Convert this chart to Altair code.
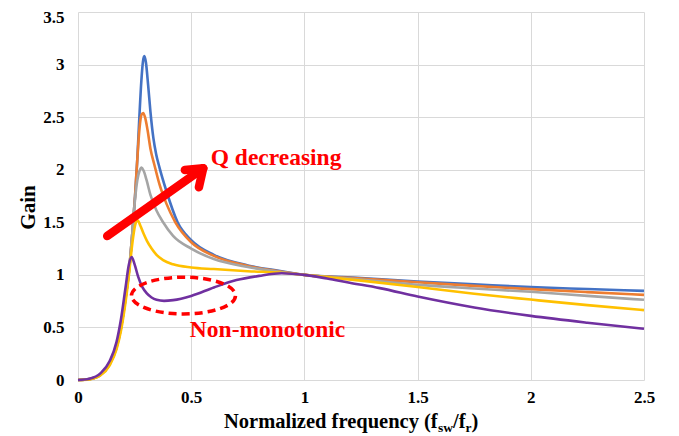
import altair as alt
import pandas as pd

# ---------------- data ----------------
x_ticks = [0, 0.5, 1, 1.5, 2, 2.5]
y_ticks = [0, 0.5, 1, 1.5, 2, 2.5, 3, 3.5]

blue_x = [0, 0.05, 0.1, 0.14, 0.17, 0.19, 0.21, 0.225, 0.24, 0.252, 0.262, 0.271, 0.28, 0.287, 0.293,
          0.3, 0.31, 0.32, 0.333, 0.345, 0.36, 0.39, 0.44, 0.5, 0.6, 0.75, 0.9, 1.0, 1.25, 1.5, 1.75, 2.0, 2.25, 2.5]
blue_y = [0, 0.008, 0.05, 0.15, 0.31, 0.5, 0.78, 1.03, 1.4, 1.75, 2.1, 2.5, 2.85, 3.03, 3.08,
          3.02, 2.8, 2.55, 2.3, 2.15, 2.02, 1.8, 1.5, 1.33, 1.19, 1.09, 1.035, 1.0, 0.97, 0.937, 0.91, 0.883, 0.865, 0.848]

orange_x = [0, 0.05, 0.1, 0.14, 0.17, 0.19, 0.21, 0.225, 0.24, 0.252, 0.262, 0.272, 0.28, 0.288,
            0.296, 0.307, 0.32, 0.337, 0.36, 0.39, 0.43, 0.5, 0.6, 0.75, 0.9, 1.0, 1.25, 1.5, 1.75, 2.0, 2.25, 2.5]
orange_y = [0, 0.008, 0.05, 0.15, 0.31, 0.5, 0.78, 1.03, 1.4, 1.75, 2.1, 2.4, 2.52, 2.54,
            2.5, 2.38, 2.2, 2.05, 1.86, 1.68, 1.5, 1.31, 1.18, 1.085, 1.03, 1.0, 0.965, 0.93, 0.895, 0.864, 0.836, 0.81]

gray_x = [0, 0.05, 0.1, 0.14, 0.17, 0.19, 0.21, 0.225, 0.24, 0.252, 0.262, 0.272, 0.281,
          0.29, 0.303, 0.32, 0.345, 0.376, 0.42, 0.5, 0.6, 0.75, 0.9, 1.0, 1.25, 1.5, 1.75, 2.0, 2.25, 2.5]
gray_y = [0, 0.008, 0.05, 0.15, 0.31, 0.5, 0.78, 1.03, 1.4, 1.72, 1.9, 1.99, 2.02,
          1.99, 1.9, 1.76, 1.62, 1.5, 1.37, 1.25, 1.15, 1.075, 1.025, 1.0, 0.955, 0.905, 0.87, 0.839, 0.8, 0.763]

yellow_x = [0, 0.05, 0.1, 0.14, 0.17, 0.19, 0.21, 0.225, 0.24, 0.252, 0.263, 0.275, 0.29, 0.305,
            0.325, 0.347, 0.376, 0.42, 0.5, 0.6, 0.75, 0.9, 1.0, 1.25, 1.5, 1.75, 2.0, 2.25, 2.5]
yellow_y = [0, 0.006, 0.045, 0.14, 0.29, 0.47, 0.74, 1.0, 1.3, 1.47, 1.52, 1.47, 1.39, 1.32,
            1.25, 1.19, 1.14, 1.1, 1.07, 1.055, 1.035, 1.02, 1.0, 0.945, 0.885, 0.82, 0.765, 0.712, 0.665]

purple_x = [0, 0.05, 0.1, 0.14, 0.17, 0.19, 0.21, 0.225, 0.237, 0.25, 0.266, 0.285, 0.303, 0.325,
            0.347, 0.38, 0.42, 0.5, 0.6, 0.7, 0.8, 0.9, 1.0, 1.1, 1.2, 1.333, 1.5, 1.75, 2.0, 2.25, 2.5]
purple_y = [0, 0.012, 0.065, 0.18, 0.36, 0.58, 0.88, 1.1, 1.17, 1.1, 0.98, 0.88, 0.826, 0.785,
            0.763, 0.753, 0.76, 0.8, 0.88, 0.95, 0.99, 1.015, 1.0, 0.965, 0.925, 0.874, 0.794, 0.69, 0.61, 0.545, 0.487]

series_names = ["Q1", "Q2", "Q3", "Q4", "Q5"]
series_colors = ["#4472C4", "#ED7D31", "#A5A5A5", "#FFC000", "#7030A0"]
series_xs = [blue_x, orange_x, gray_x, yellow_x, purple_x]
series_ys = [blue_y, orange_y, gray_y, yellow_y, purple_y]

# annotation arrow (data units): shaft then two head arms
arrow_x1 = [0.129, 0.553, 0.553]
arrow_y1 = [1.37, 2.013, 2.013]
arrow_x2 = [0.553, 0.472, 0.534]
arrow_y2 = [2.013, 1.997, 1.833]

label_text = ["Q decreasing", "Non-monotonic"]
label_x = [0.586, 0.494]
label_y = [2.045, 0.408]

ellipse_x = [0.466]
ellipse_y = [0.803]

# ---------------- chart ----------------
FONT = "Liberation Serif"
RED = "#FF0000"

x_scale = alt.Scale(domain=[0, 2.5], nice=False, zero=False)
y_scale = alt.Scale(domain=[0, 3.5], nice=False, zero=False)

x_axis = alt.Axis(values=x_ticks, format="~g", title=None, grid=True, gridColor="#D9D9D9",
                  gridWidth=1, domain=False, ticks=False, labelFont=FONT, labelFontSize=17,
                  labelFontWeight="bold", labelColor="black", labelPadding=9, labelFlush=False)
y_axis = alt.Axis(values=y_ticks, format="~g", title="Gain", grid=True, gridColor="#D9D9D9",
                  gridWidth=1, domain=False, ticks=False, labelFont=FONT, labelFontSize=17,
                  labelFontWeight="bold", labelColor="black", labelPadding=14, labelFlush=False,
                  labelOffset={"condition": {"test": "datum.value >= 3.5", "value": 5}, "value": 0},
                  titleFont=FONT, titleFontSize=21, titleFontWeight="bold", titleColor="black",
                  titleAngle=270, titleX=-44, titleY=195, titleBaseline="alphabetic",
                  titleAlign="center")


def X(field="x"):
    return alt.X(f"{field}:Q", scale=x_scale, axis=x_axis)


def Y(field="y"):
    return alt.Y(f"{field}:Q", scale=y_scale, axis=y_axis)


layers = []
for name, xs, ys, col in zip(series_names, series_xs, series_ys, series_colors):
    df = pd.DataFrame({"x": xs, "y": ys, "s": name})
    layers.append(
        alt.Chart(df).mark_line(color=col, strokeWidth=2.6, interpolate="monotone")
        .encode(x=X(), y=Y())
    )

arrow_df = pd.DataFrame({"x": arrow_x1, "y": arrow_y1, "x2": arrow_x2, "y2": arrow_y2})
arrow = alt.Chart(arrow_df).mark_rule(color=RED, strokeWidth=8.5, strokeCap="round").encode(
    x=X(), y=Y(), x2="x2:Q", y2="y2:Q")

ell_df = pd.DataFrame({"x": ellipse_x, "y": ellipse_y})
ellipse_path = ("M -1 0 C -1 -0.195 -0.552 -0.353 0 -0.353 C 0.552 -0.353 1 -0.195 1 0 "
                "C 1 0.195 0.552 0.353 0 0.353 C -0.552 0.353 -1 0.195 -1 0 Z")
ellipse = alt.Chart(ell_df).mark_point(shape=ellipse_path, size=10816, filled=False, color=RED,
                                       strokeWidth=3.5, strokeDash=[8, 5], opacity=1).encode(
    x=X(), y=Y())

lab_df = pd.DataFrame({"x": label_x, "y": label_y, "t": label_text})
labels = alt.Chart(lab_df).mark_text(align="left", baseline="alphabetic", font=FONT, fontSize=23.5,
                                     fontWeight="bold", color=RED).encode(
    x=X(), y=Y(), text="t:N")

# x-axis title with subscripts, built from text fragments
title_parts = ["Normalized frequency (f", "sw", "/f", "r", ")"]
title_px = [146, 360.1, 375.1, 387.6, 393.6]
title_py = [415.7, 420, 415.7, 420, 415.7]
title_fs = [20.5, 13.5, 20.5, 13.5, 20.5]
title_layers = []
for t, px, py, fs in zip(title_parts, title_px, title_py, title_fs):
    tdf = pd.DataFrame({"t": [t]})
    title_layers.append(
        alt.Chart(tdf).mark_text(align="left", baseline="alphabetic", font=FONT, fontSize=fs,
                                 fontWeight="bold", color="black")
        .encode(x=alt.value(px), y=alt.value(py), text="t:N")
    )

chart = alt.layer(*layers, arrow, ellipse, labels, *title_layers).properties(
    width=566, height=368,
    padding={"left": 70, "top": 4, "right": 25, "bottom": 56},
    autosize=alt.AutoSizeParams(type="none"),
    background="white",
).configure_view(stroke=None)

chart.save("out.html", embed_options={"renderer": "svg", "actions": False})
